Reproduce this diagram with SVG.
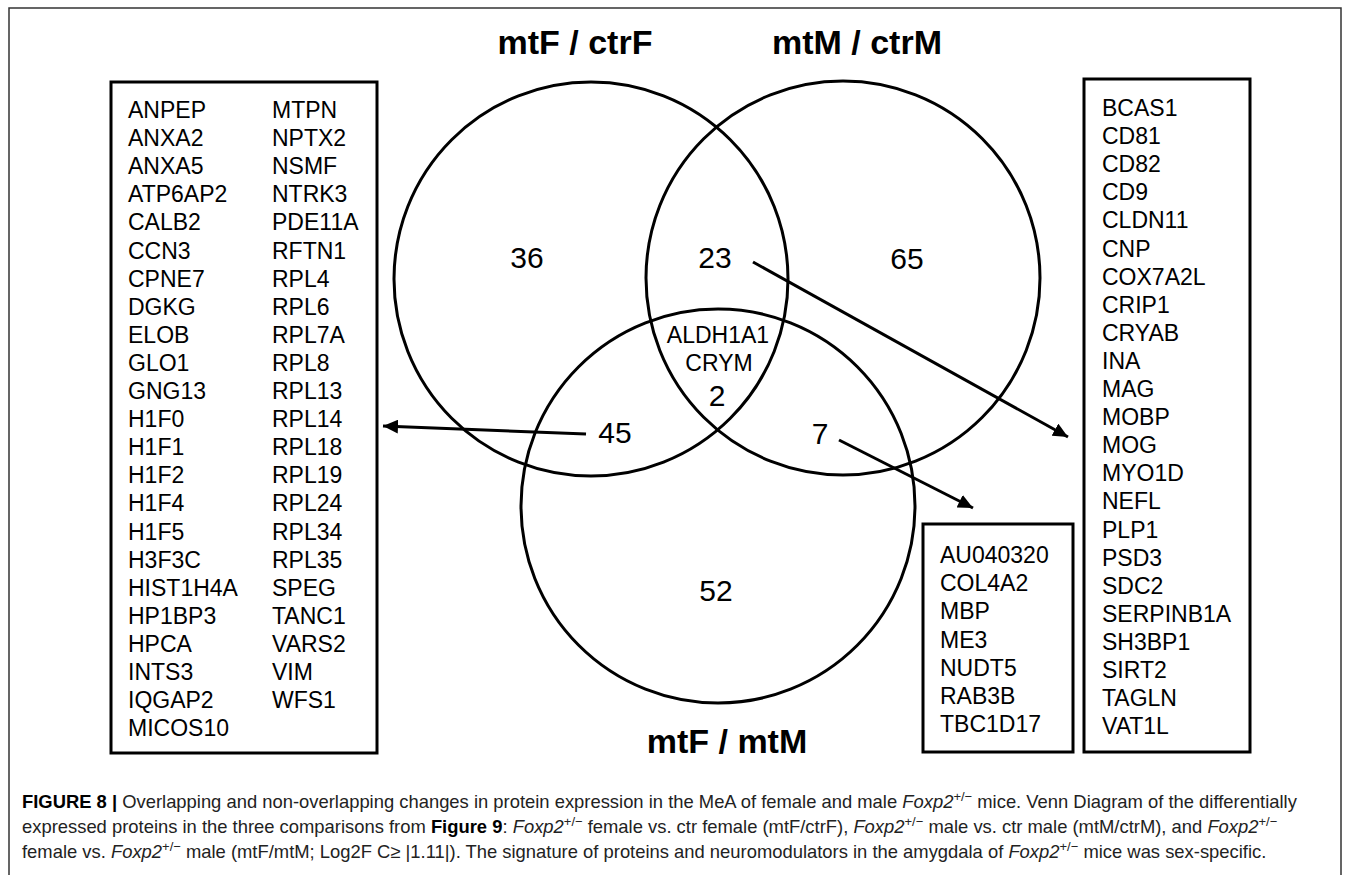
<svg xmlns="http://www.w3.org/2000/svg" width="1354" height="875" viewBox="0 0 1354 875">
<style>
.frame{fill:none;stroke:#333;stroke-width:1.5}
.box{fill:none;stroke:#000;stroke-width:3}
.circ{fill:none;stroke:#000;stroke-width:3}
.gene{font-family:"Liberation Sans",Arial,sans-serif;font-size:23px;fill:#000}
.num{font-family:"Liberation Sans",Arial,sans-serif;font-size:30px;fill:#000;text-anchor:middle}
.mid{font-family:"Liberation Sans",Arial,sans-serif;font-size:23px;fill:#000;text-anchor:middle}
.title{font-family:"Liberation Sans",Arial,sans-serif;font-size:34px;font-weight:bold;fill:#000;text-anchor:middle}
.cap{font-family:"Liberation Sans",Arial,sans-serif;font-size:18.4px;fill:#222}
.arrow{fill:none;stroke:#000;stroke-width:3;marker-end:url(#ah)}
</style>
<defs>
<marker id="ah" markerUnits="userSpaceOnUse" markerWidth="16" markerHeight="14" refX="15" refY="7" orient="auto">
<path d="M0,0 L15,7 L0,14 z" fill="#000"/>
</marker>
</defs>
<rect width="1354" height="875" fill="#fff"/>
<path class="frame" d="M9,880 V8 H1341 V880"/>

<g id="venn">
<circle id="c-mtF-ctrF" class="circ" cx="591" cy="279" r="197"/>
<circle id="c-mtM-ctrM" class="circ" cx="843" cy="278" r="197"/>
<circle id="c-mtF-mtM" class="circ" cx="718" cy="506" r="197"/>
</g>

<g id="titles">
<text class="title" x="575" y="54">mtF / ctrF</text>
<text class="title" x="857" y="54">mtM / ctrM</text>
<text class="title" x="727" y="753">mtF / mtM</text>
</g>

<g id="counts">
<text class="num" x="527" y="268">36</text>
<text class="num" x="715" y="268">23</text>
<text class="num" x="907" y="269">65</text>
<text class="num" x="615" y="443">45</text>
<text class="num" x="820" y="444">7</text>
<text class="num" x="716" y="601">52</text>
<text class="mid" x="718" y="343">ALDH1A1</text>
<text class="mid" x="719" y="371">CRYM</text>
<text class="num" x="717" y="406">2</text>
</g>

<g id="connectors">
<line class="arrow" x1="586" y1="434" x2="383" y2="426"/>
<line class="arrow" x1="753" y1="262" x2="1068" y2="437"/>
<line class="arrow" x1="839" y1="440" x2="973" y2="508"/>
</g>

<g id="box-left">
<rect class="box" x="111" y="82" width="266" height="671"/>
<text class="gene">
<tspan x="128" y="118">ANPEP</tspan>
<tspan x="128" y="146.1">ANXA2</tspan>
<tspan x="128" y="174.2">ANXA5</tspan>
<tspan x="128" y="202.3">ATP6AP2</tspan>
<tspan x="128" y="230.4">CALB2</tspan>
<tspan x="128" y="258.5">CCN3</tspan>
<tspan x="128" y="286.6">CPNE7</tspan>
<tspan x="128" y="314.7">DGKG</tspan>
<tspan x="128" y="342.8">ELOB</tspan>
<tspan x="128" y="370.9">GLO1</tspan>
<tspan x="128" y="399">GNG13</tspan>
<tspan x="128" y="427.1">H1F0</tspan>
<tspan x="128" y="455.2">H1F1</tspan>
<tspan x="128" y="483.3">H1F2</tspan>
<tspan x="128" y="511.4">H1F4</tspan>
<tspan x="128" y="539.5">H1F5</tspan>
<tspan x="128" y="567.6">H3F3C</tspan>
<tspan x="128" y="595.7">HIST1H4A</tspan>
<tspan x="128" y="623.8">HP1BP3</tspan>
<tspan x="128" y="651.9">HPCA</tspan>
<tspan x="128" y="680">INTS3</tspan>
<tspan x="128" y="708.1">IQGAP2</tspan>
<tspan x="128" y="736.2">MICOS10</tspan>
</text>
<text class="gene">
<tspan x="272" y="118">MTPN</tspan>
<tspan x="272" y="146.1">NPTX2</tspan>
<tspan x="272" y="174.2">NSMF</tspan>
<tspan x="272" y="202.3">NTRK3</tspan>
<tspan x="272" y="230.4">PDE11A</tspan>
<tspan x="272" y="258.5">RFTN1</tspan>
<tspan x="272" y="286.6">RPL4</tspan>
<tspan x="272" y="314.7">RPL6</tspan>
<tspan x="272" y="342.8">RPL7A</tspan>
<tspan x="272" y="370.9">RPL8</tspan>
<tspan x="272" y="399">RPL13</tspan>
<tspan x="272" y="427.1">RPL14</tspan>
<tspan x="272" y="455.2">RPL18</tspan>
<tspan x="272" y="483.3">RPL19</tspan>
<tspan x="272" y="511.4">RPL24</tspan>
<tspan x="272" y="539.5">RPL34</tspan>
<tspan x="272" y="567.6">RPL35</tspan>
<tspan x="272" y="595.7">SPEG</tspan>
<tspan x="272" y="623.8">TANC1</tspan>
<tspan x="272" y="651.9">VARS2</tspan>
<tspan x="272" y="680">VIM</tspan>
<tspan x="272" y="708.1">WFS1</tspan>
</text>
</g>

<g id="box-middle">
<rect class="box" x="923" y="524" width="150" height="228"/>
<text class="gene">
<tspan x="940" y="563">AU040320</tspan>
<tspan x="940" y="591.2">COL4A2</tspan>
<tspan x="940" y="619.4">MBP</tspan>
<tspan x="940" y="647.6">ME3</tspan>
<tspan x="940" y="675.8">NUDT5</tspan>
<tspan x="940" y="704">RAB3B</tspan>
<tspan x="940" y="732.2">TBC1D17</tspan>
</text>
</g>

<g id="box-right">
<rect class="box" x="1084" y="79" width="166" height="673"/>
<text class="gene">
<tspan x="1102" y="116">BCAS1</tspan>
<tspan x="1102" y="144.1">CD81</tspan>
<tspan x="1102" y="172.2">CD82</tspan>
<tspan x="1102" y="200.3">CD9</tspan>
<tspan x="1102" y="228.4">CLDN11</tspan>
<tspan x="1102" y="256.5">CNP</tspan>
<tspan x="1102" y="284.6">COX7A2L</tspan>
<tspan x="1102" y="312.7">CRIP1</tspan>
<tspan x="1102" y="340.8">CRYAB</tspan>
<tspan x="1102" y="368.9">INA</tspan>
<tspan x="1102" y="397">MAG</tspan>
<tspan x="1102" y="425.1">MOBP</tspan>
<tspan x="1102" y="453.2">MOG</tspan>
<tspan x="1102" y="481.3">MYO1D</tspan>
<tspan x="1102" y="509.4">NEFL</tspan>
<tspan x="1102" y="537.5">PLP1</tspan>
<tspan x="1102" y="565.6">PSD3</tspan>
<tspan x="1102" y="593.7">SDC2</tspan>
<tspan x="1102" y="621.8">SERPINB1A</tspan>
<tspan x="1102" y="649.9">SH3BP1</tspan>
<tspan x="1102" y="678">SIRT2</tspan>
<tspan x="1102" y="706.1">TAGLN</tspan>
<tspan x="1102" y="734.2">VAT1L</tspan>
</text>
</g>

<g id="caption">
<text class="cap" x="22" y="808"><tspan font-weight="bold" fill="#000">FIGURE 8 | </tspan>Overlapping and non-overlapping changes in protein expression in the MeA of female and male <tspan font-style="italic">Foxp2</tspan><tspan font-size="13" dy="-7">+/−</tspan><tspan dy="7"> mice. Venn Diagram of the differentially</tspan></text>
<text class="cap" x="22" y="833">expressed proteins in the three comparisons from <tspan font-weight="bold" fill="#000">Figure 9</tspan>: <tspan font-style="italic">Foxp2</tspan><tspan font-size="13" dy="-7">+/−</tspan><tspan dy="7"> female vs. ctr female (mtF/ctrF), </tspan><tspan font-style="italic">Foxp2</tspan><tspan font-size="13" dy="-7">+/−</tspan><tspan dy="7"> male vs. ctr male (mtM/ctrM), and </tspan><tspan font-style="italic">Foxp2</tspan><tspan font-size="13" dy="-7">+/−</tspan></text>
<text class="cap" x="22" y="858">female vs. <tspan font-style="italic">Foxp2</tspan><tspan font-size="13" dy="-7">+/−</tspan><tspan dy="7"> male (mtF/mtM; Log2F C≥ |1.11|). The signature of proteins and neuromodulators in the amygdala of </tspan><tspan font-style="italic">Foxp2</tspan><tspan font-size="13" dy="-7">+/−</tspan><tspan dy="7"> mice was sex-specific.</tspan></text>
</g>
</svg>
